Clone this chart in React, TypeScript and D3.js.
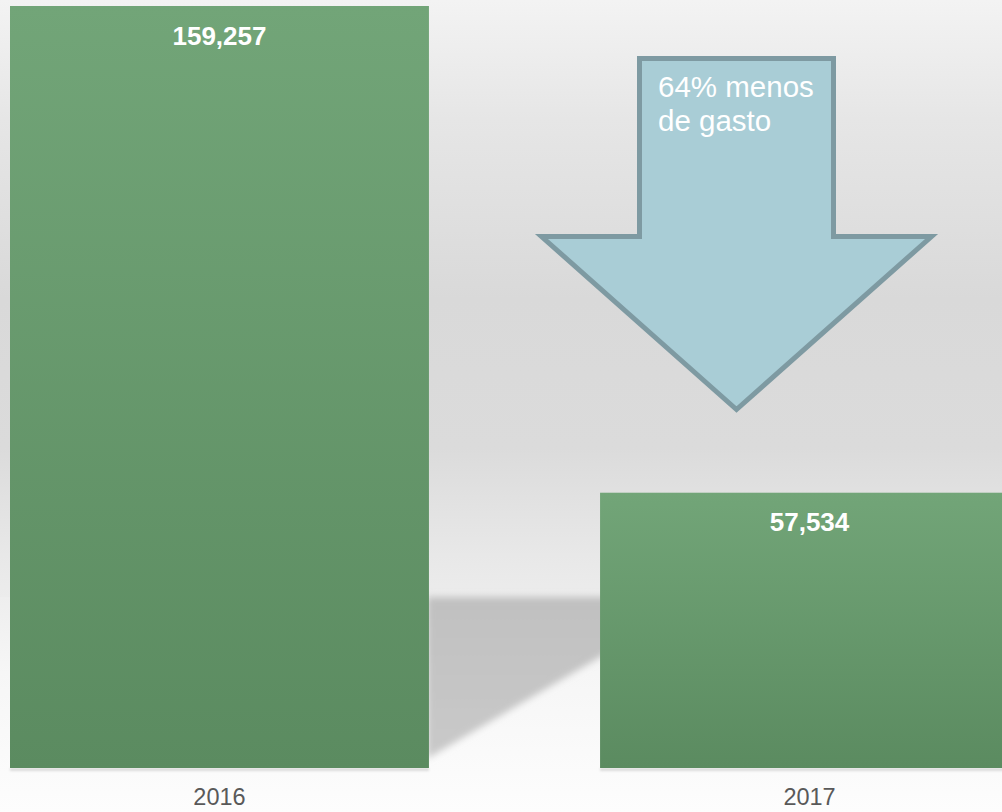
import React from "react";
import * as d3 from "d3";

const categories = ["2016", "2017"];
const values = [159257, 57534];
const valueLabels = ["159,257", "57,534"];
const annotationLines = ["64% menos", "de gasto"];

const W = 1002;
const H = 812;

export default function App() {
  const baseY = 768;
  const x = d3
    .scaleBand<string>()
    .domain(categories)
    .range([10, 1019])
    .paddingInner(0.29)
    .paddingOuter(0);
  const y = d3.scaleLinear().domain([0, d3.max(values) as number]).range([baseY, 6]);
  const bw = x.bandwidth();

  const floorY = 597;
  const x0 = (x("2016") as number) + bw;
  const x1 = x("2017") as number;
  const slope = 100 / 170;
  const shadowPts: [number, number][] = [
    [x0 - 2, floorY],
    [x1 + 40, floorY],
    [x1 + 40, 657 - 40 * slope],
    [x0 - 2, 657 + (x1 - x0 + 2) * slope],
  ];

  // arrow annotation geometry
  const cx = 736.5;
  const shaftHalf = 97;
  const shaftTop = 58.5;
  const headY = 236.5;
  const headHalf = 195;
  const tipY = 409.5;
  const arrow = d3.line()([
    [cx - shaftHalf, shaftTop],
    [cx + shaftHalf, shaftTop],
    [cx + shaftHalf, headY],
    [cx + headHalf, headY],
    [cx, tipY],
    [cx - headHalf, headY],
    [cx - shaftHalf, headY],
  ]) + "Z";

  return (
    <svg
      width={W}
      height={H}
      style={{ position: "absolute", left: 0, top: 0, display: "block" }}
      fontFamily="'Liberation Sans', Arial, sans-serif"
    >
      <defs>
        <linearGradient id="wall" x1="0" y1="0" x2="0" y2="1">
          <stop offset="0" stopColor="#f3f3f3" />
          <stop offset="0.2" stopColor="#e6e6e6" />
          <stop offset="0.5" stopColor="#d9d9d9" />
          <stop offset="0.75" stopColor="#dbdbdb" />
          <stop offset="0.93" stopColor="#e8e8e8" />
          <stop offset="1" stopColor="#ececec" />
        </linearGradient>
        <linearGradient id="floor" x1="0" y1="0" x2="0" y2="1">
          <stop offset="0" stopColor="#eeeeee" />
          <stop offset="0.35" stopColor="#f6f6f6" />
          <stop offset="1" stopColor="#fdfdfd" />
        </linearGradient>
        <linearGradient id="shadowG" x1="0" y1="0" x2="0" y2="1">
          <stop offset="0" stopColor="#c0c0c0" />
          <stop offset="1" stopColor="#c9c9c9" />
        </linearGradient>
        <linearGradient id="barG" x1="0" y1="0" x2="0" y2="1">
          <stop offset="0" stopColor="#72a578" />
          <stop offset="1" stopColor="#5b8b60" />
        </linearGradient>
        <filter id="blur" x="-10%" y="-10%" width="120%" height="120%">
          <feGaussianBlur stdDeviation="3.5" />
        </filter>
        <filter id="blur2" x="-5%" y="-200%" width="110%" height="500%">
          <feGaussianBlur stdDeviation="1.2" />
        </filter>
      </defs>

      <rect x={0} y={0} width={W} height={floorY} fill="url(#wall)" />
      <rect x={0} y={floorY} width={W} height={H - floorY} fill="url(#floor)" />
      <polygon
        points={shadowPts.map((p) => p.join(",")).join(" ")}
        fill="url(#shadowG)"
        filter="url(#blur)"
      />

      {values.map((v, i) => (
        <g key={categories[i]}>
          <rect
            x={x(categories[i]) as number}
            y={baseY}
            width={bw}
            height={3}
            fill="#dcdcdc"
            filter="url(#blur2)"
          />
          <rect
            x={x(categories[i]) as number}
            y={y(v)}
            width={bw}
            height={baseY - y(v)}
            fill="url(#barG)"
          />
          <text
            x={(x(categories[i]) as number) + bw / 2}
            y={y(v) + 38.5}
            textAnchor="middle"
            fill="#ffffff"
            fontWeight="bold"
            fontSize={26}
          >
            {valueLabels[i]}
          </text>
          <text
            x={(x(categories[i]) as number) + bw / 2}
            y={805}
            textAnchor="middle"
            fill="#595959"
            fontSize={23.5}
          >
            {categories[i]}
          </text>
        </g>
      ))}

      <path
        d={arrow}
        fill="#a9cdd6"
        stroke="#7e9aa2"
        strokeWidth={5}
        strokeLinejoin="miter"
        strokeMiterlimit={10}
      />
      {annotationLines.map((t, i) => (
        <text key={t} x={658} y={97 + i * 34} fill="#ffffff" fontSize={29.5}>
          {t}
        </text>
      ))}
    </svg>
  );
}
